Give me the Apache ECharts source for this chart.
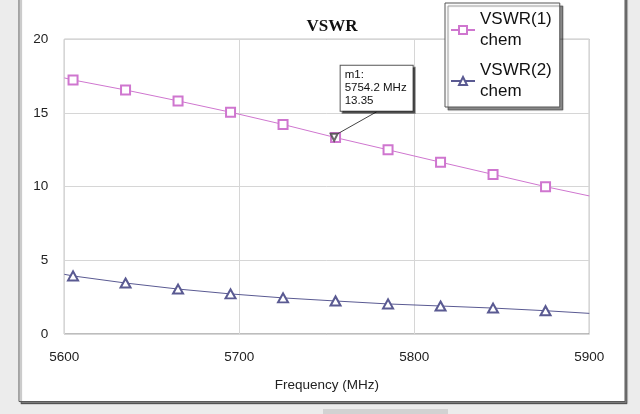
<!DOCTYPE html>
<html>
<head>
<meta charset="utf-8">
<script src="https://cdn.jsdelivr.net/npm/echarts@6/dist/echarts.min.js"></script>
<style>
html,body{margin:0;padding:0;background:#ececec;}
#chart{width:640px;height:414px;}
</style>
</head>
<body>
<div id="chart"></div>
<script>
// ---- data ----
var title = 'VSWR';
var xAxisName = 'Frequency (MHz)';
var freqs = [5600, 5605, 5635, 5665, 5695, 5725, 5755, 5785, 5815, 5845, 5875, 5900];
var markerShown = [false, true, true, true, true, true, true, true, true, true, true, false];
var vswr1 = [17.38, 17.24, 16.56, 15.82, 15.05, 14.22, 13.33, 12.50, 11.66, 10.83, 10.00, 9.37];
var vswr2 = [4.05, 3.94, 3.46, 3.05, 2.72, 2.45, 2.24, 2.04, 1.90, 1.76, 1.58, 1.40];
var seriesNames = ['VSWR(1)\nchem', 'VSWR(2)\nchem'];
var m1Name = 'm1';
var m1Freq = 5754.2;
var m1Value = 13.35;
var xTicks = [5600, 5700, 5800, 5900];
var yTicks = [0, 5, 10, 15, 20];

var c1 = '#cf76cf', c2 = '#5a5a92';

function build(vals) {
  return freqs.map(function (f, i) {
    var d = { value: [f, vals[i]] };
    if (!markerShown[i]) d.symbol = 'none';
    return d;
  });
}

var chart = echarts.init(document.getElementById('chart'), null, { renderer: 'canvas' });
var option = {
  backgroundColor: '#ececec',
  animation: false,
  graphic: [
    { type: 'rect', z: -10, shape: { x: 19, y: -5, width: 606, height: 406.5 },
      style: { fill: '#ffffff', stroke: '#5a5a5a', lineWidth: 1,
        shadowColor: 'rgba(0,0,0,0.45)', shadowOffsetX: 2, shadowOffsetY: 2, shadowBlur: 1 } },
    { type: 'rect', z: -10, shape: { x: 323, y: 409, width: 125, height: 6 },
      style: { fill: '#d2d2d2' } }
  ],
  title: {
    text: title, left: 327, top: 13, textAlign: 'center',
    textStyle: { fontFamily: 'Liberation Serif', fontWeight: 'bold', fontSize: 17, color: '#111' }
  },
  grid: { left: 64.3, right: 50.7, top: 39.3, bottom: 80, show: true,
    borderColor: '#7a7a7a', borderWidth: 1, backgroundColor: 'transparent' },
  legend: {
    orient: 'vertical', left: 445, top: 3, width: 117,
    padding: [6, 8, 5, 5], itemGap: 9, itemWidth: 24, itemHeight: 10,
    backgroundColor: '#ffffff', borderColor: '#555', borderWidth: 1,
    shadowColor: 'rgba(0,0,0,0.45)', shadowOffsetX: 3, shadowOffsetY: 3, shadowBlur: 1,
    textStyle: { fontFamily: 'Liberation Sans', fontSize: 17, lineHeight: 21, color: '#111' },
    data: seriesNames
  },
  xAxis: {
    type: 'value', min: xTicks[0], max: xTicks[xTicks.length - 1], interval: 100,
    name: xAxisName, nameLocation: 'middle', nameGap: 44,
    nameTextStyle: { fontFamily: 'Liberation Sans', fontSize: 13.5, color: '#222' },
    axisLine: { show: false }, axisTick: { show: false },
    axisLabel: { margin: 16, fontFamily: 'Liberation Sans', fontSize: 13.5, color: '#222',
      formatter: function (v) { return String(v); } },
    splitLine: { show: true, lineStyle: { color: '#d6d6d6', width: 1 } }
  },
  yAxis: {
    type: 'value', min: yTicks[0], max: yTicks[yTicks.length - 1], interval: 5,
    axisLine: { show: false }, axisTick: { show: false },
    axisLabel: { margin: 16, fontFamily: 'Liberation Sans', fontSize: 13.5, color: '#222' },
    splitLine: { show: true, lineStyle: { color: '#d6d6d6', width: 1 } }
  },
  series: [
    { name: seriesNames[0], type: 'line', data: build(vswr1), symbol: 'emptyRect', symbolSize: 9,
      color: c1, lineStyle: { color: c1, width: 1 }, itemStyle: { color: c1, borderWidth: 1 } },
    { name: seriesNames[1], type: 'line', data: build(vswr2), symbol: 'emptyTriangle', symbolSize: [10, 9],
      color: c2, lineStyle: { color: c2, width: 1 }, itemStyle: { color: c2, borderWidth: 1 } },
    { name: m1Name, type: 'scatter', data: [[m1Freq, m1Value]], z: 5, zlevel: 0,
      symbol: 'emptyTriangle', symbolRotate: 180, symbolSize: 7,
      itemStyle: { color: '#444', borderWidth: 1 },
      label: {
        show: true, position: 'inside', opacity: 1,
        formatter: function (p) { return m1Name + ':\n' + p.value[0].toFixed(1) + ' MHz\n' + p.value[1].toFixed(2); },
        fontFamily: 'Liberation Sans', fontSize: 11.5, lineHeight: 13, color: '#111', align: 'left',
        textBorderWidth: 0, textShadowBlur: 0,
        backgroundColor: '#ffffff', borderColor: '#555', borderWidth: 1, padding: [3, 6, 3, 4],
        shadowColor: 'rgba(0,0,0,0.5)', shadowOffsetX: 2, shadowOffsetY: 2, shadowBlur: 0
      },
      labelLayout: { dx: 6.5, dy: -49 },
      labelLine: { show: true, lineStyle: { color: '#444', width: 1 } }
    }
  ]
};
chart.setOption(option);
</script>
</body>
</html>
